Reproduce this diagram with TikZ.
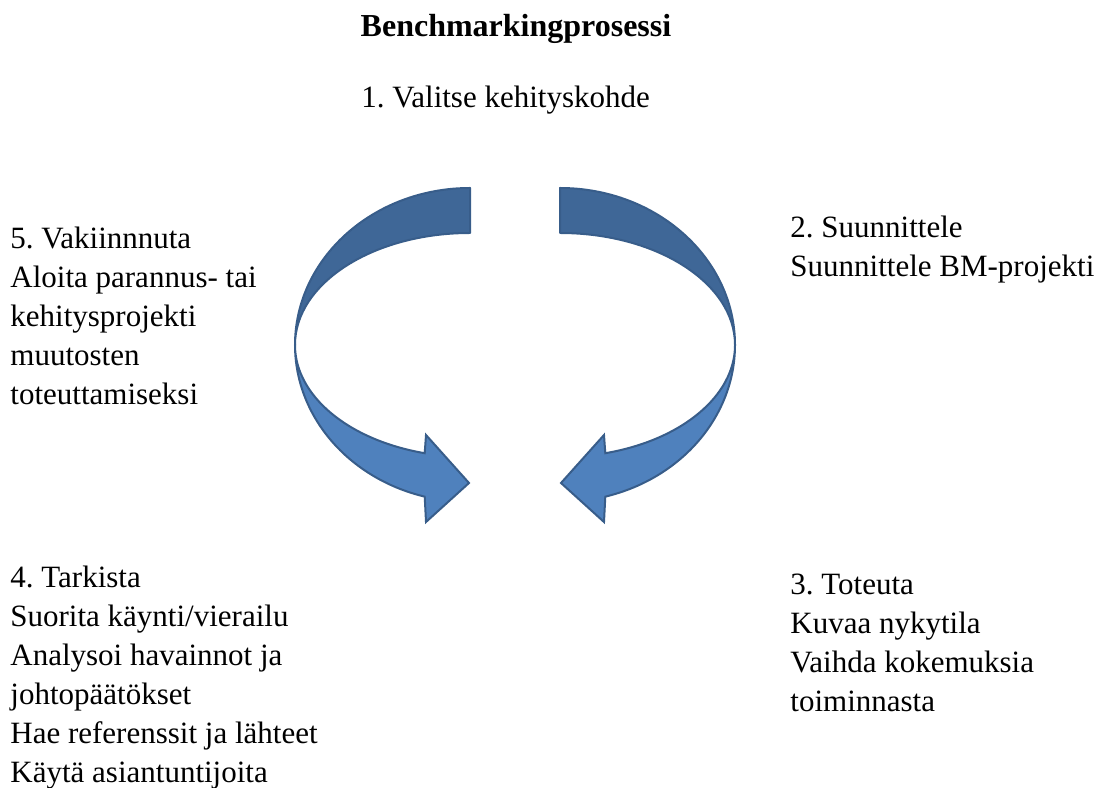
\documentclass[tikz,border=0pt]{standalone}
\usepackage{fontspec}
\setmainfont{Liberation Serif}
\frenchspacing
\usepackage{tikz}
\usetikzlibrary{calc}
\definecolor{arcdark}{HTML}{3F6797}
\definecolor{arclight}{HTML}{4F81BD}
\definecolor{arcedge}{HTML}{385D8A}
\tikzset{
	backband/.style={fill=arcdark, draw=arcedge, line width=1pt, line join=round},
	frontband/.style={fill=arclight, draw=arcedge, line width=1pt, line join=miter},
	steptext/.style={anchor=north west, inner sep=0pt, align=left,
		font=\fontsize{15.5}{19.5}\selectfont},
	titletext/.style={anchor=base, inner sep=0pt, font=\fontsize{16}{19.5}\selectfont\bfseries},
}

\begin{document}
\begin{tikzpicture}[x=0.5pt, y=0.5pt]
	\useasboundingbox (0,0) rectangle (1102,787);
	% left arrow
	\draw[backband] (470,599) arc[start angle=90, end angle=180, x radius=175, y radius=157]
		arc[start angle=180, end angle=90, x radius=175, y radius=112] -- cycle;
	\draw[frontband] (295,442) arc[start angle=180, end angle=255, x radius=175, y radius=157]
		-- (426,265) -- (469,304) -- (426,352) -- (424.7,333.8)
		arc[start angle=255, end angle=180, x radius=175, y radius=112] -- cycle;
\begin{scope}[shift={(1030,0)}, xscale=-1]
	% right arrow
	\draw[backband] (470,599) arc[start angle=90, end angle=180, x radius=175, y radius=157]
		arc[start angle=180, end angle=90, x radius=175, y radius=112] -- cycle;
	\draw[frontband] (295,442) arc[start angle=180, end angle=255, x radius=175, y radius=157]
		-- (426,265) -- (469,304) -- (426,352) -- (424.7,333.8)
		arc[start angle=255, end angle=180, x radius=175, y radius=112] -- cycle;
\end{scope}
	\node[titletext] (title) at (516,750) {Benchmarkingprosessi};
	\node[steptext, anchor=base west] (valitse) at (361,679) {1. Valitse kehityskohde};
	\node[steptext] (suunnittele) at (790,571) {2. Suunnittele\\Suunnittele BM-projekti};
	\node[steptext] (toteuta) at (790,213) {3. Toteuta\\Kuvaa nykytila\\Vaihda kokemuksia\\toiminnasta};
	\node[steptext] (tarkista) at (10,221) {4. Tarkista\\Suorita käynti/vierailu\\Analysoi havainnot ja\\johtopäätökset\\Hae referenssit ja lähteet\\Käytä asiantuntijoita};
	\node[steptext] (vakiinnuta) at (10,560) {5. Vakiinnnuta\\Aloita parannus- tai\\kehitysprojekti\\muutosten\\toteuttamiseksi};
\end{tikzpicture}
\end{document}
